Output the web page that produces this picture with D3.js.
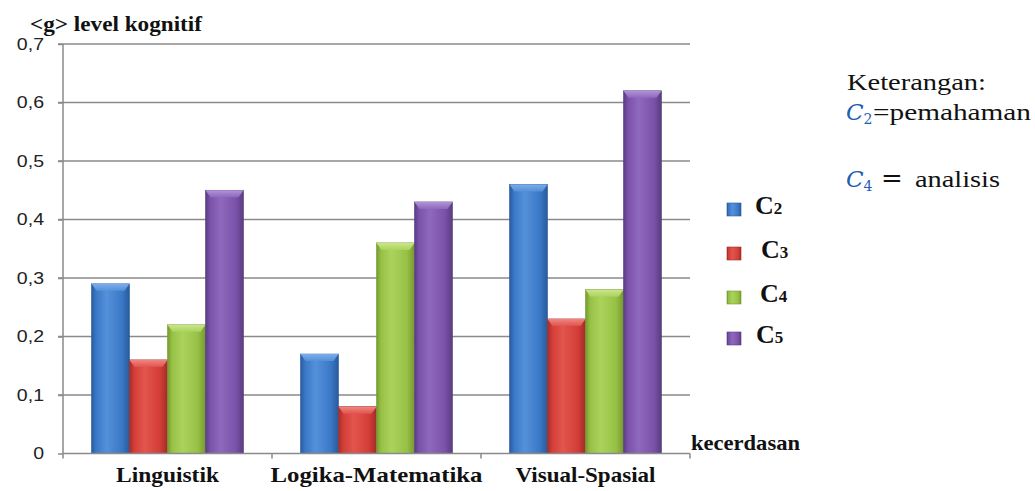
<!DOCTYPE html>
<html>
<head>
<meta charset="utf-8">
<script src="https://cdn.jsdelivr.net/npm/d3@7"></script>
<style>
  html, body { margin: 0; padding: 0; background: #fff; }
  svg { display: block; }
</style>
</head>
<body>
<svg id="chart" width="1035" height="491"></svg>
<script>
// ---- data ----
const categories = ["Linguistik", "Logika-Matematika", "Visual-Spasial"];
const seriesKeys = ["C2", "C3", "C4", "C5"];
const seriesDigits = ["2", "3", "4", "5"];
const valuesC2 = [0.29, 0.17, 0.46];
const valuesC3 = [0.16, 0.08, 0.23];
const valuesC4 = [0.22, 0.36, 0.28];
const valuesC5 = [0.45, 0.43, 0.62];
const yTicks = [0, 0.1, 0.2, 0.3, 0.4, 0.5, 0.6, 0.7];
const yTickLabels = ["0", "0,1", "0,2", "0,3", "0,4", "0,5", "0,6", "0,7"];
const seriesValues = [valuesC2, valuesC3, valuesC4, valuesC5];

// colour ramps per series: dark edge, body, light highlight, cap
const palette = {
  C2: { dark: "#285a9b", body: "#3a78c6", light: "#5590da", cap: "#7fb0ec" },
  C3: { dark: "#a22c28", body: "#d43d37", light: "#e2554e", cap: "#f08a84" },
  C4: { dark: "#76992f", body: "#97c145", light: "#abd35c", cap: "#cce88e" },
  C5: { dark: "#583c80", body: "#7a52a9", light: "#8f69be", cap: "#b396d8" }
};

const svg = d3.select("#chart");
const serif = "'Liberation Serif', 'Times New Roman', serif";

// stretch a text element horizontally to a given width
function fitWidth(sel, w) {
  sel.attr("textLength", w).attr("lengthAdjust", "spacingAndGlyphs");
}

// ---- scales ----
const plotLeft = 63, plotRight = 690, plotTop = 44, plotBottom = 453.5;
const x0 = d3.scaleBand().domain(categories).range([plotLeft, plotRight]).padding(0);
const groupPad = 28.5;
const x1 = d3.scaleBand().domain(seriesKeys).range([groupPad, x0.bandwidth() - groupPad]).padding(0);
const y = d3.scaleLinear().domain([0, 0.7]).range([plotBottom, plotTop]);

// ---- gradients ----
const defs = svg.append("defs");
seriesKeys.forEach(k => {
  const c = palette[k];
  const g = defs.append("linearGradient").attr("id", "grad-" + k)
    .attr("x1", "0%").attr("x2", "100%").attr("y1", "0%").attr("y2", "0%");
  g.append("stop").attr("offset", "0%").attr("stop-color", c.dark);
  g.append("stop").attr("offset", "12%").attr("stop-color", c.body);
  g.append("stop").attr("offset", "40%").attr("stop-color", c.light);
  g.append("stop").attr("offset", "80%").attr("stop-color", c.body);
  g.append("stop").attr("offset", "100%").attr("stop-color", c.dark);
  const cg = defs.append("linearGradient").attr("id", "cap-" + k)
    .attr("x1", "0%").attr("x2", "0%").attr("y1", "0%").attr("y2", "100%");
  cg.append("stop").attr("offset", "0%").attr("stop-color", c.cap);
  cg.append("stop").attr("offset", "100%").attr("stop-color", c.light);
});

// ---- gridlines ----
svg.append("g").selectAll("line").data(yTicks.slice(1)).join("line")
  .attr("x1", plotLeft - 5).attr("x2", plotRight)
  .attr("y1", d => y(d)).attr("y2", d => y(d))
  .attr("stroke", "#8a8a8a").attr("stroke-width", 1.5);

// ---- y axis ----
const yAxis = d3.axisLeft(y).tickValues(yTicks)
  .tickFormat((d, i) => yTickLabels[i]).tickSize(5).tickPadding(14);
const yg = svg.append("g").attr("transform", `translate(${plotLeft},0)`).call(yAxis);
yg.select(".domain").attr("stroke", "#8a8a8a").attr("stroke-width", 1.5)
  .attr("d", `M0,${plotTop}V${plotBottom}`);
yg.selectAll(".tick line").attr("stroke", "#8a8a8a").attr("stroke-width", 1.5);
yg.selectAll(".tick text")
  .attr("font-family", "'Liberation Sans', Arial, sans-serif")
  .attr("font-size", 16).attr("fill", "#222")
  .each(function () {
    const t = d3.select(this);
    const w = this.getComputedTextLength();
    fitWidth(t, w * 1.22);
  });

// ---- bars ----
const groups = svg.append("g").selectAll("g").data(categories).join("g")
  .attr("transform", d => `translate(${x0(d)},0)`);

groups.each(function (cat, ci) {
  const g = d3.select(this);
  seriesKeys.forEach((k, si) => {
    const v = seriesValues[si][ci];
    const bx = x1(k), bw = x1.bandwidth();
    const by = y(v), bh = y(0) - y(v);
    g.append("rect")
      .attr("x", bx).attr("y", by).attr("width", bw).attr("height", bh)
      .attr("fill", `url(#grad-${k})`)
      .attr("stroke", palette[k].dark).attr("stroke-width", 0.6);
    // bevelled top cap
    const capH = Math.min(7, bh), ch = 5;
    g.append("path")
      .attr("d", `M${bx},${by}H${bx + bw}L${bx + bw - ch},${by + capH}H${bx + ch}Z`)
      .attr("fill", `url(#cap-${k})`).attr("opacity", 0.95);
  });
});

// ---- x axis ----
const xg = svg.append("g");
xg.append("line").attr("x1", plotLeft).attr("x2", plotRight)
  .attr("y1", plotBottom).attr("y2", plotBottom)
  .attr("stroke", "#8a8a8a").attr("stroke-width", 1.5);
const boundaries = categories.map(c => x0(c)).concat([x0(categories[2]) + x0.bandwidth()]);
xg.selectAll("line.tk").data(boundaries).join("line").attr("class", "tk")
  .attr("x1", d => d).attr("x2", d => d)
  .attr("y1", plotBottom).attr("y2", plotBottom + 5)
  .attr("stroke", "#8a8a8a").attr("stroke-width", 1.5);

const catWidths = [103, 212, 140];
xg.selectAll("text").data(categories).join("text")
  .attr("x", d => x0(d) + x0.bandwidth() / 2)
  .attr("y", 482)
  .attr("text-anchor", "middle")
  .attr("font-family", serif).attr("font-weight", "bold").attr("font-size", 21)
  .attr("fill", "#111")
  .text(d => d)
  .each(function (d, i) { fitWidth(d3.select(this), catWidths[i]); });

// ---- axis titles ----
svg.append("text").attr("x", 30).attr("y", 31)
  .attr("font-family", serif).attr("font-weight", "bold").attr("font-size", 21)
  .attr("fill", "#111").text("<g> level kognitif")
  .call(fitWidth, 172);

svg.append("text").attr("x", 691).attr("y", 450)
  .attr("font-family", serif).attr("font-weight", "bold").attr("font-size", 21)
  .attr("fill", "#111").text("kecerdasan")
  .call(fitWidth, 109);

// ---- legend ----
const legendRowsY = [203, 247, 291, 332];
const legendTextX = [755, 761, 760, 756];
const legend = svg.append("g");
seriesKeys.forEach((k, i) => {
  legend.append("rect")
    .attr("x", 727).attr("y", legendRowsY[i]).attr("width", 14).attr("height", 13)
    .attr("fill", `url(#grad-${k})`).attr("stroke", palette[k].dark).attr("stroke-width", 0.6);
  const t = legend.append("text")
    .attr("x", legendTextX[i]).attr("y", legendRowsY[i] + 11)
    .attr("font-family", serif).attr("font-weight", "bold").attr("fill", "#111");
  t.append("tspan").attr("font-size", 26).text("C");
  t.append("tspan").attr("font-size", 17).text(seriesDigits[i]);
});

// ---- note ----
const note = svg.append("g").attr("font-family", serif).attr("fill", "#111");
note.append("text").attr("x", 847).attr("y", 90).attr("font-size", 24)
  .text("Keterangan:").call(fitWidth, 139);

const mathFont = "'DejaVu Serif', serif";
const mathBlue = "#1f5cb8";
function mathSymbol(x, yBase, digit) {
  note.append("text").attr("x", x).attr("y", yBase)
    .attr("font-family", mathFont).attr("font-style", "italic")
    .attr("font-size", 23).attr("fill", mathBlue).text("C");
  note.append("text").attr("x", x + 17.5).attr("y", yBase + 4)
    .attr("font-family", mathFont).attr("font-size", 14)
    .attr("fill", mathBlue).text(digit);
}
mathSymbol(846, 120, "2");
note.append("text").attr("x", 873).attr("y", 120).attr("font-size", 24)
  .text("=pemahaman").call(fitWidth, 158);

mathSymbol(846, 187, "4");
note.append("text").attr("x", 881).attr("y", 187)
  .attr("font-family", mathFont).attr("font-size", 26).text("=");
note.append("text").attr("x", 915).attr("y", 187).attr("font-size", 24)
  .text("analisis").call(fitWidth, 85);
</script>
</body>
</html>
